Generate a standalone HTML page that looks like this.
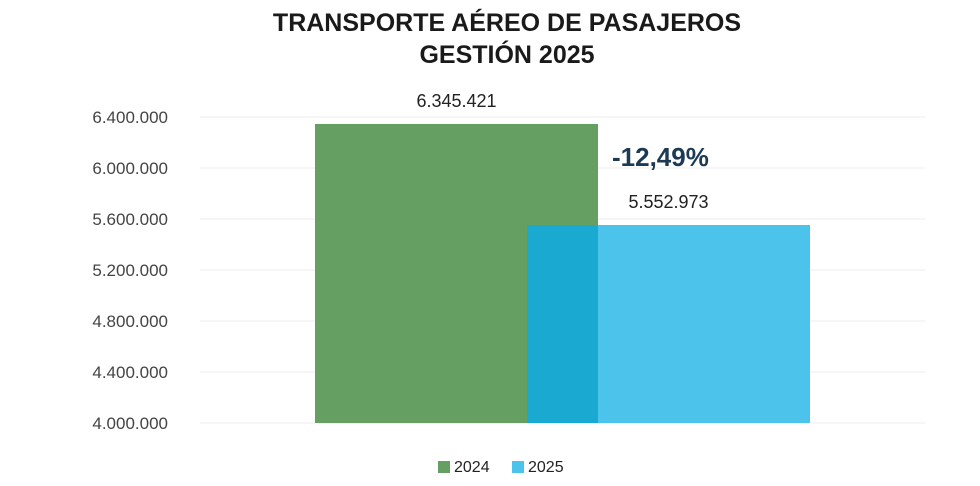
<!DOCTYPE html>
<html><head><meta charset="utf-8"><style>
body{margin:0;background:#fff;width:980px;height:481px;overflow:hidden;font-family:"Liberation Sans",sans-serif}
</style></head><body>
<svg width="980" height="481">
<text x="507" y="31" text-anchor="middle" font-size="25" font-weight="bold" fill="#1a1a1a" font-family="Liberation Sans Narrow, Liberation Sans, sans-serif">TRANSPORTE AÉREO DE PASAJEROS</text>
<text x="507" y="63" text-anchor="middle" font-size="25" font-weight="bold" fill="#1a1a1a" font-family="Liberation Sans Narrow, Liberation Sans, sans-serif">GESTIÓN 2025</text>
<g id="grid"></g><g id="bars"></g>
<text x="612" y="166" font-size="26" font-weight="bold" fill="#1d3a55">-12,49%</text>
<g>
<rect x="438" y="461" width="12" height="12" fill="#65a062"/>
<text x="454" y="472" font-size="16" fill="#222">2024</text>
<rect x="512" y="461" width="12" height="12" fill="#4cc3ea"/>
<text x="528" y="472" font-size="16" fill="#222">2025</text>
</g>
</svg>
<script>
const categories=["2024","2025"];
const values=[6345421,5552973];
const ticks=[4000000,4400000,4800000,5200000,5600000,6000000,6400000];
const NS="http://www.w3.org/2000/svg";
const y=v=>423-(v-4000000)*306/2400000;
const fmt=v=>v.toString().replace(/\B(?=(\d{3})+(?!\d))/g,".");
const grid=document.getElementById('grid'),bars=document.getElementById('bars');
function mk(tag,a,p){const e=document.createElementNS(NS,tag);for(const k in a)e.setAttribute(k,a[k]);p.appendChild(e);return e;}
ticks.forEach(t=>{
 const l=mk('line',{x1:200,x2:925,y1:y(t),y2:y(t),stroke:'#eeeeee'},grid);
 
 
 const tx=mk('text',{x:168,y:y(t)+6,'text-anchor':'end','font-size':17,fill:'#444'},grid);
 tx.textContent=fmt(t);
 
 
});
const xs=[315,527],w=283,colors=['#65a062','#4cc3ea'];
values.forEach((v,i)=>{
 const r=mk('rect',{x:xs[i],y:y(v),width:w,height:423-y(v),fill:colors[i]},bars);
 
 
 const tx=mk('text',{x:xs[i]+w/2,y:y(v)-17,'text-anchor':'middle','font-size':18,fill:'#222'},bars);
 tx.textContent=fmt(v);
 
 
});
const ov=mk('rect',{x:xs[1],y:Math.max(y(values[0]),y(values[1])),width:xs[0]+w-xs[1],height:423-Math.max(y(values[0]),y(values[1])),fill:'#1aa9d0'},bars);


</script>
</body></html>
